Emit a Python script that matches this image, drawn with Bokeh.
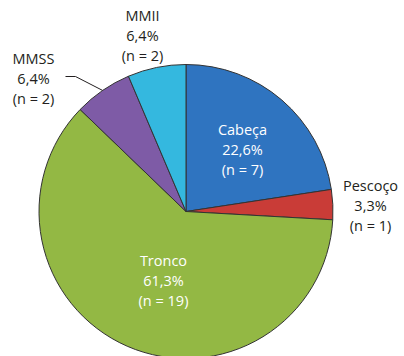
import numpy as np
from bokeh.plotting import figure
from bokeh.models import Range1d, ColumnDataSource
from bokeh.core.properties import value
from bokeh.embed import file_html
from bokeh.resources import INLINE

# Distribution of lesions by body region
regions = ["Cabeça", "Pescoço", "Tronco", "MMSS", "MMII"]
counts = [7, 1, 19, 2, 2]
percents = [22.6, 3.3, 61.3, 6.4, 6.4]
colors = ["#2F74C0", "#C93C37", "#93B844", "#7E5BA6", "#34B8DF"]

W, H = 404, 356
cx, cy, r = 185.5, H - 211, 147

p = figure(width=W, height=H, output_backend="svg", toolbar_location=None,
           x_range=Range1d(0, W), y_range=Range1d(0, H),
           min_border=0, outline_line_color=None, background_fill_color="white")
p.axis.visible = False
p.grid.visible = False

# slices run clockwise from 12 o'clock
frac = np.array(percents) / 100.0
ends = np.pi / 2 - 2 * np.pi * np.cumsum(frac)
starts = np.concatenate([[np.pi / 2], ends[:-1]])

src = ColumnDataSource(dict(start=ends, end=starts, color=colors))
p.wedge(x=cx, y=cy, radius=r, start_angle="start", end_angle="end",
        fill_color="color", line_color="#333333", line_width=1, source=src)

def fmt(pc):
    return f"{pc:.1f}".replace(".", ",") + "%"

labels = [f"{reg}\n{fmt(pc)}\n(n = {n})" for reg, pc, n in zip(regions, percents, counts)]

# label placement (screen coordinates, y measured from top)
lx = [242, 370, 163, 33, 142]
ly = [149, 205, 280, 78, 35]
lcol = ["white", "#231F20", "white", "#231F20", "#231F20"]

lsrc = ColumnDataSource(dict(x=lx, y=[H - v for v in ly], text=labels, color=lcol))
p.text(x="x", y="y", text="text", text_color="color", source=lsrc,
       text_font=value("Open Sans"), text_font_size="14.5px",
       text_align="center", text_baseline="middle", text_line_height=1.03)

# leader line for the MMSS label, ending on the slice's mid-angle
mid = (starts[3] + ends[3]) / 2
ex, ey = cx + r * np.cos(mid), cy + r * np.sin(mid)
p.line(x=[65, 75, ex], y=[H - 76, H - 76, ey], line_color="#231F20", line_width=1)

open("out.html", "w").write(file_html(p, INLINE))
